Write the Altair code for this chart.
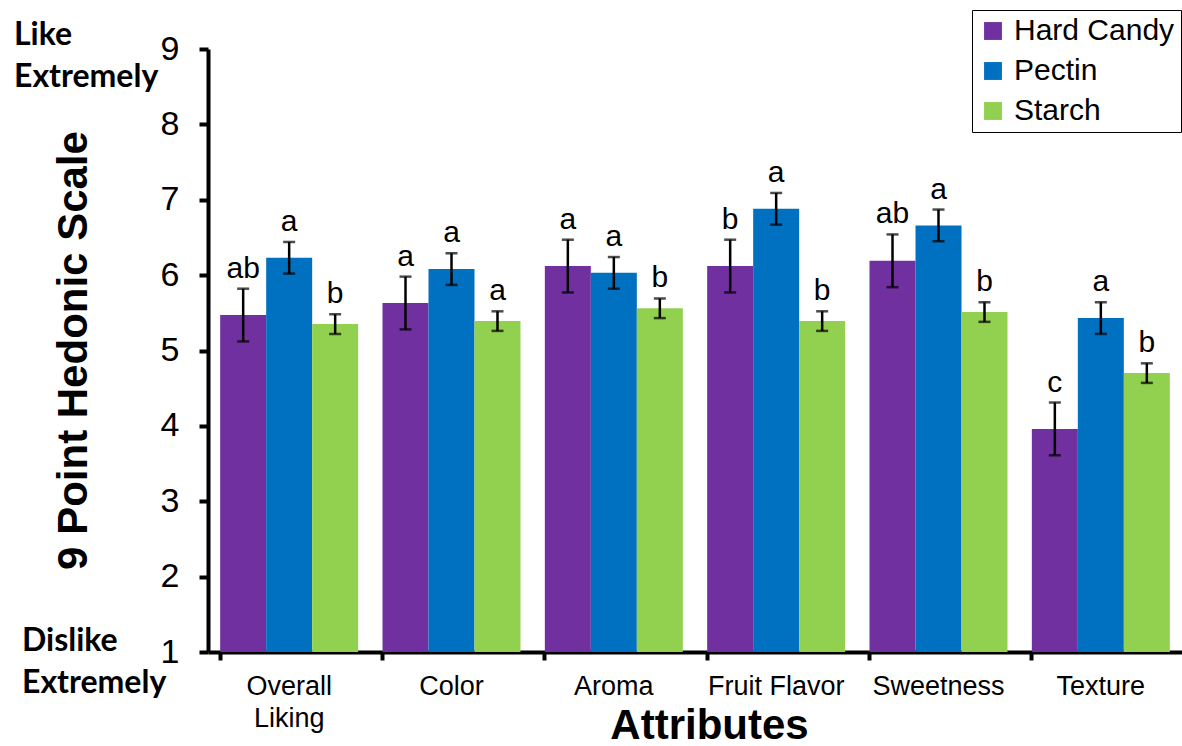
import altair as alt
import pandas as pd

attributes = ["Overall Liking", "Color", "Aroma", "Fruit Flavor", "Sweetness", "Texture"]
products = ["Hard Candy", "Pectin", "Starch"]
colors = ["#7030A0", "#0070C0", "#92D050"]

hard_candy = [5.47, 5.63, 6.12, 6.12, 6.19, 3.96]
pectin = [6.23, 6.08, 6.03, 6.88, 6.66, 5.43]
starch = [5.35, 5.39, 5.56, 5.39, 5.51, 4.70]

hard_candy_err = [0.35, 0.35, 0.35, 0.35, 0.35, 0.35]
pectin_err = [0.21, 0.21, 0.21, 0.21, 0.21, 0.21]
starch_err = [0.13, 0.13, 0.13, 0.13, 0.13, 0.13]

hard_candy_sig = ["ab", "a", "a", "b", "ab", "c"]
pectin_sig = ["a", "a", "a", "a", "a", "a"]
starch_sig = ["b", "a", "b", "b", "b", "b"]

y_ticks = [1, 2, 3, 4, 5, 6, 7, 8, 9]

rows = []
for prod, vals, errs, sigs in [
    ("Hard Candy", hard_candy, hard_candy_err, hard_candy_sig),
    ("Pectin", pectin, pectin_err, pectin_sig),
    ("Starch", starch, starch_err, starch_sig),
]:
    for a, v, e, s in zip(attributes, vals, errs, sigs):
        rows.append({"attr": a, "product": prod, "mean": v,
                     "lo": v - e, "hi": v + e, "sig": s})
df = pd.DataFrame(rows)

W, H = 974, 603
FONT = "Liberation Sans"

x_enc = alt.X("attr:N", sort=attributes,
              scale=alt.Scale(paddingInner=0.15, paddingOuter=0.075),
              axis=alt.Axis(
                  title="Attributes", titleFont=FONT, titleFontSize=42,
                  titleFontWeight="bold", titleColor="black",
                  titleX=501, titleY=95, titleBaseline="bottom", titleAlign="center",
                  labelFont=FONT, labelFontSize=27, labelColor="black",
                  labelAngle=0, labelPadding=13, labelLineHeight=32,
                  labelExpr="datum.label == 'Overall Liking' ? ['Overall', 'Liking'] : datum.label",
                  bandPosition=0, tickColor="black", tickWidth=4, tickSize=8,
                  domainColor="black", domainWidth=4))
x_plain = alt.X("attr:N", sort=attributes)
xoff = alt.XOffset("product:N", sort=products)
color_enc = alt.Color("product:N", sort=products,
                      scale=alt.Scale(domain=products, range=colors),
                      legend=alt.Legend(
                          title=None, orient="none", legendX=764, legendY=-39,
                          labelFont=FONT, labelFontSize=30, labelColor="black",
                          labelLimit=400,
                          symbolType="square", symbolSize=320, symbolStrokeWidth=0,
                          symbolOpacity=1, rowPadding=10, padding=6,
                          strokeColor="black", fillColor="white",
                          labelOffset=6))

y_scale = alt.Scale(domain=[1, 9], zero=False, nice=False)

bars = alt.Chart(df).mark_bar(opacity=1).encode(
    x=x_enc,
    xOffset=xoff,
    y=alt.Y("mean:Q", scale=y_scale,
            axis=alt.Axis(
                values=y_ticks, format="d", grid=False,
                title="9 Point Hedonic Scale", titleFont=FONT, titleFontSize=42,
                titleFontWeight="bold", titleColor="black", titleAngle=270,
                titleX=-135, titleY=301, titleAlign="center", titleBaseline="middle",
                labelFont=FONT, labelFontSize=34, labelColor="black",
                labelPadding=20, tickColor="black", tickWidth=4, tickSize=9,
                domainColor="black", domainWidth=4)),
    y2=alt.datum(1),
    color=color_enc,
)

whisker = alt.Chart(df).mark_rule(color="black", strokeWidth=2.5).encode(
    x=x_plain,
    xOffset=xoff,
    y=alt.Y("lo:Q", scale=y_scale),
    y2="hi:Q",
)

caps_lo = alt.Chart(df).mark_tick(color="black", thickness=2.5, size=12).encode(
    x=x_plain,
    xOffset=xoff,
    y=alt.Y("lo:Q", scale=y_scale),
)
caps_hi = alt.Chart(df).mark_tick(color="black", thickness=2.5, size=12).encode(
    x=x_plain,
    xOffset=xoff,
    y=alt.Y("hi:Q", scale=y_scale),
)

letters = alt.Chart(df).mark_text(
    font=FONT, fontSize=30, color="black", baseline="bottom", dy=-5
).encode(
    x=x_plain,
    xOffset=xoff,
    y=alt.Y("hi:Q", scale=y_scale),
    text="sig:N",
)

anchor_words = pd.DataFrame({"lbl": ["top", "bottom"]})
like_text = alt.Chart(anchor_words.iloc[:1]).mark_text(
    text=["Like", "Extremely"], font="Lato", fontWeight="bold", fontSize=32,
    color="black", align="left", baseline="alphabetic", lineHeight=42
).encode(x=alt.value(-194), y=alt.value(-4))
dislike_text = alt.Chart(anchor_words.iloc[1:]).mark_text(
    text=["Dislike", "Extremely"], font="Lato", fontWeight="bold", fontSize=32,
    color="black", align="left", baseline="alphabetic", lineHeight=42
).encode(x=alt.value(-186), y=alt.value(602))

chart = alt.layer(bars, whisker, caps_lo, caps_hi, letters, like_text, dislike_text).properties(
    width=W, height=H,
    background="white",
    autosize=alt.AutoSizeParams(type="none"),
    padding={"left": 208, "top": 49, "right": 0, "bottom": 94},
).configure_view(stroke=None).configure_axis(grid=False)

chart.save("out.html", embed_options={"renderer": "svg", "actions": False})
